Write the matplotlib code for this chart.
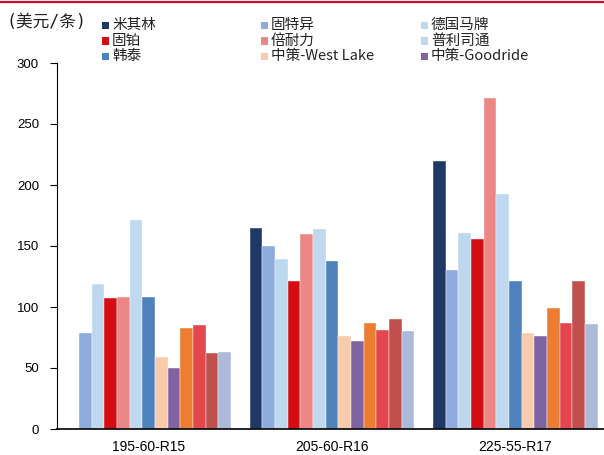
import matplotlib
matplotlib.use("Agg")
import matplotlib.pyplot as plt
from matplotlib.patches import Rectangle
from matplotlib.lines import Line2D
import numpy as np

plt.rcParams['font.family'] = ['Liberation Sans', 'Noto Sans CJK SC', 'DejaVu Sans']

categories = ["195-60-R15", "205-60-R16", "225-55-R17"]
series_names = ["米其林", "固特异", "德国马牌", "固铂", "倍耐力", "普利司通", "韩泰",
                "中策-West Lake", "中策-Goodride", "系列10", "系列11", "系列12", "系列13"]
legend_count = 9
values = [
    [0, 165, 220],     # 米其林
    [79, 150, 130],    # 固特异
    [119, 139, 161],   # 德国马牌
    [107, 121, 156],   # 固铂
    [108, 160, 271],   # 倍耐力
    [171, 164, 193],   # 普利司通
    [108, 138, 121],   # 韩泰
    [59, 76, 79],      # 中策-West Lake
    [50, 72, 76],      # 中策-Goodride
    [83, 87, 99],
    [85, 81, 87],
    [62, 90, 121],
    [63, 80, 86],
]
colors = ["#1F3864", "#8FAADC", "#BDD7EE", "#D40D12", "#EB8784", "#BFD8F0", "#4F81BD",
          "#F8CBAD", "#8064A2", "#ED7D31", "#E4464D", "#C0504D", "#ACB9D8"]
yticks = [0, 50, 100, 150, 200, 250, 300]
unit_label = "(美元/条)"

W, H = 604, 455
fig = plt.figure(figsize=(W / 100, H / 100), dpi=100)
ax = fig.add_axes([57 / W, (H - 429) / H, 550 / W, 366 / H])

n = len(series_names)
w = 12.7 / 183.5
x = np.arange(len(categories))
for i, (name, vals, c) in enumerate(zip(series_names, values, colors)):
    ax.bar(x + (i - (n - 1) / 2) * w, vals, width=w, color=c, edgecolor='white',
           linewidth=0.3, label=name, zorder=2)

ax.set_xlim(-0.5, 2.5)
ax.set_ylim(0, 300)
ax.set_yticks(yticks)
ax.set_yticklabels([str(t) for t in yticks], fontsize=9.5)
ax.set_xticks(x)
ax.set_xticklabels(categories, fontsize=10)
ax.tick_params(axis='x', length=0, pad=8)
ax.tick_params(axis='y', direction='out', length=5, width=0.8, pad=8)
for s in ['top', 'right']:
    ax.spines[s].set_visible(False)
ax.spines['left'].set_linewidth(0.8)
ax.spines['bottom'].set_linewidth(1.2)

# top red line
fig.add_artist(Line2D([0, 1], [1 - 2 / H, 1 - 2 / H], transform=fig.transFigure,
                      color="#C8102E", linewidth=1.6))

# unit label
fig.text(6 / W, 1 - 22 / H, unit_label, fontsize=12, va='center', ha='left',
         family=['DejaVu Sans Mono', 'Noto Sans CJK SC'], color='#222222')

# manual legend (3 columns, row-major)
col_x = [102, 261, 421]
row_y = [25, 41, 56]
for k in range(legend_count):
    r, cidx = divmod(k, 3)
    sx, sy = col_x[cidx], row_y[r]
    fig.add_artist(Rectangle((sx / W, 1 - (sy + 3.5) / H), 7 / W, 7 / H,
                             transform=fig.transFigure, facecolor=colors[k],
                             edgecolor='none'))
    fig.text((sx + 10) / W, 1 - sy / H, series_names[k], fontsize=10.5,
             va='center', ha='left', family=['Noto Sans CJK SC', 'DejaVu Sans'],
             color='#222222')

fig.savefig("out.png", dpi=100)
